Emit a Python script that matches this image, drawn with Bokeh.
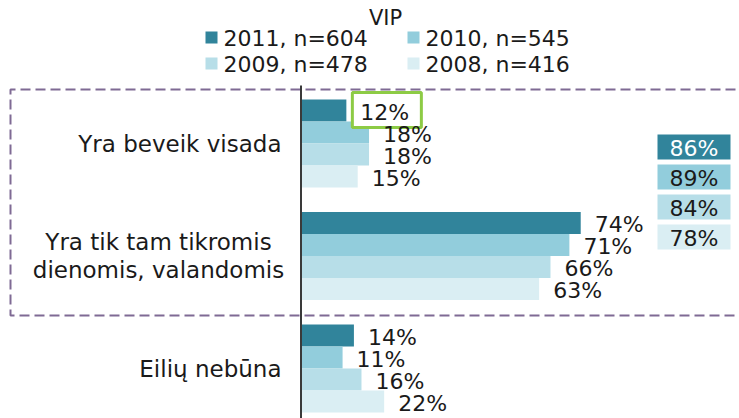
from bokeh.plotting import figure
from bokeh.models import Range1d, ColumnDataSource
from bokeh.core.properties import value
from bokeh.embed import file_html
from bokeh.resources import INLINE

# ---- data ----
categories = ["Yra beveik visada", "Yra tik tam tikromis\ndienomis, valandomis", "Eilių nebūna"]
series_names = ["2011, n=604", "2010, n=545", "2009, n=478", "2008, n=416"]
series_colors = ["#31849B", "#92CDDC", "#B7DEE8", "#DAEEF3"]
v2011 = [12, 74, 14]
v2010 = [18, 71, 11]
v2009 = [18, 66, 16]
v2008 = [15, 63, 22]
totals = [86, 89, 84, 78]          # sum of first two categories per year
title_text = "VIP"

FONT = value("DejaVu Sans")
W, H = 739, 418
X0 = 300.5        # pixel x of the 0% axis
PPP = 3.78        # pixels per percent

def px(x):
    return (x - X0) / PPP

p = figure(width=W, height=H, output_backend="svg", toolbar_location=None,
           x_range=Range1d(px(0), px(W)), y_range=Range1d(H, 0),
           min_border=0, outline_line_color=None)
p.axis.visible = False
p.grid.visible = False
p.background_fill_color = "white"

# dashed frame around the first two categories
p.line([px(900), px(10), px(10), px(900)], [89, 89, 315, 315],
       line_color="#7F6A94", line_width=2, line_dash="10 5")

# bars
cat_center = [143, 255.5, 368]
bar_h = 22
series = [v2011, v2010, v2009, v2008]
sources = []
for si, vals in enumerate(series):
    ys = [c + (si - 1.5) * bar_h for c in cat_center]
    src = ColumnDataSource(dict(y=ys, right=vals,
                                lab=[f"{v}%" for v in vals],
                                lx=[v + 14 / PPP for v in vals],
                                ly=[y + 1.5 for y in ys]))
    sources.append(src)
    p.hbar(y="y", left=0, right="right", height=bar_h, source=src,
           fill_color=series_colors[si], line_color=None)

# green highlight around the first 2011 value (white filled)
gx = v2011[0] + 6 / PPP
p.quad(left=[gx], right=[gx + 69 / PPP], top=[92], bottom=[127],
       fill_color="white", line_color="#8DCB45", line_width=3)

# value labels
for src in sources:
    p.text(x="lx", y="ly", text="lab", source=src, text_font=FONT,
           text_font_size="22px", text_align="left", text_baseline="middle",
           text_color="#1a1a1a")

# vertical category axis line
p.line([0, 0], [85, 430], line_color="#3a3a3a", line_width=2)

# category labels
p.text(x=[px(281)], y=[143], text=[categories[0]], text_font=FONT,
       text_font_size="23px", text_align="right", text_baseline="middle", text_color="#1a1a1a")
l1, l2 = categories[1].split("\n")
p.text(x=[px(158), px(158)], y=[241, 269], text=[l1, l2], text_font=FONT,
       text_font_size="23px", text_align="center", text_baseline="middle", text_color="#1a1a1a")
p.text(x=[px(281)], y=[368], text=[categories[2]], text_font=FONT,
       text_font_size="23px", text_align="right", text_baseline="middle", text_color="#1a1a1a")

# totals boxes on the right
box_top = [134, 164, 194, 224]
for i, t in enumerate(totals):
    p.quad(left=[px(657)], right=[px(730)], top=[box_top[i]], bottom=[box_top[i] + 25],
           fill_color=series_colors[i], line_color=None)
    p.text(x=[px(693.5)], y=[box_top[i] + 13.5], text=[f"{t}%"], text_font=FONT,
           text_font_size="22px", text_align="center", text_baseline="middle",
           text_color="white" if i == 0 else "#1a1a1a")

# title
p.text(x=[px(385)], y=[17], text=[title_text], text_font=FONT, text_font_size="21px",
       text_align="center", text_baseline="middle", text_color="#1a1a1a")

# legend
leg_sq_x = [211, 413, 211, 413]
leg_y = [37, 37, 63, 63]
for i, name in enumerate(series_names):
    p.rect(x=[px(leg_sq_x[i])], y=[leg_y[i]], width=12, height=12,
           width_units="screen", height_units="screen",
           fill_color=series_colors[i], line_color=None)
    p.text(x=[px(leg_sq_x[i] + 12)], y=[leg_y[i] + 1], text=[name], text_font=FONT,
           text_font_size="22px", text_align="left", text_baseline="middle", text_color="#1a1a1a")

open("out.html", "w").write(file_html(p, INLINE))
